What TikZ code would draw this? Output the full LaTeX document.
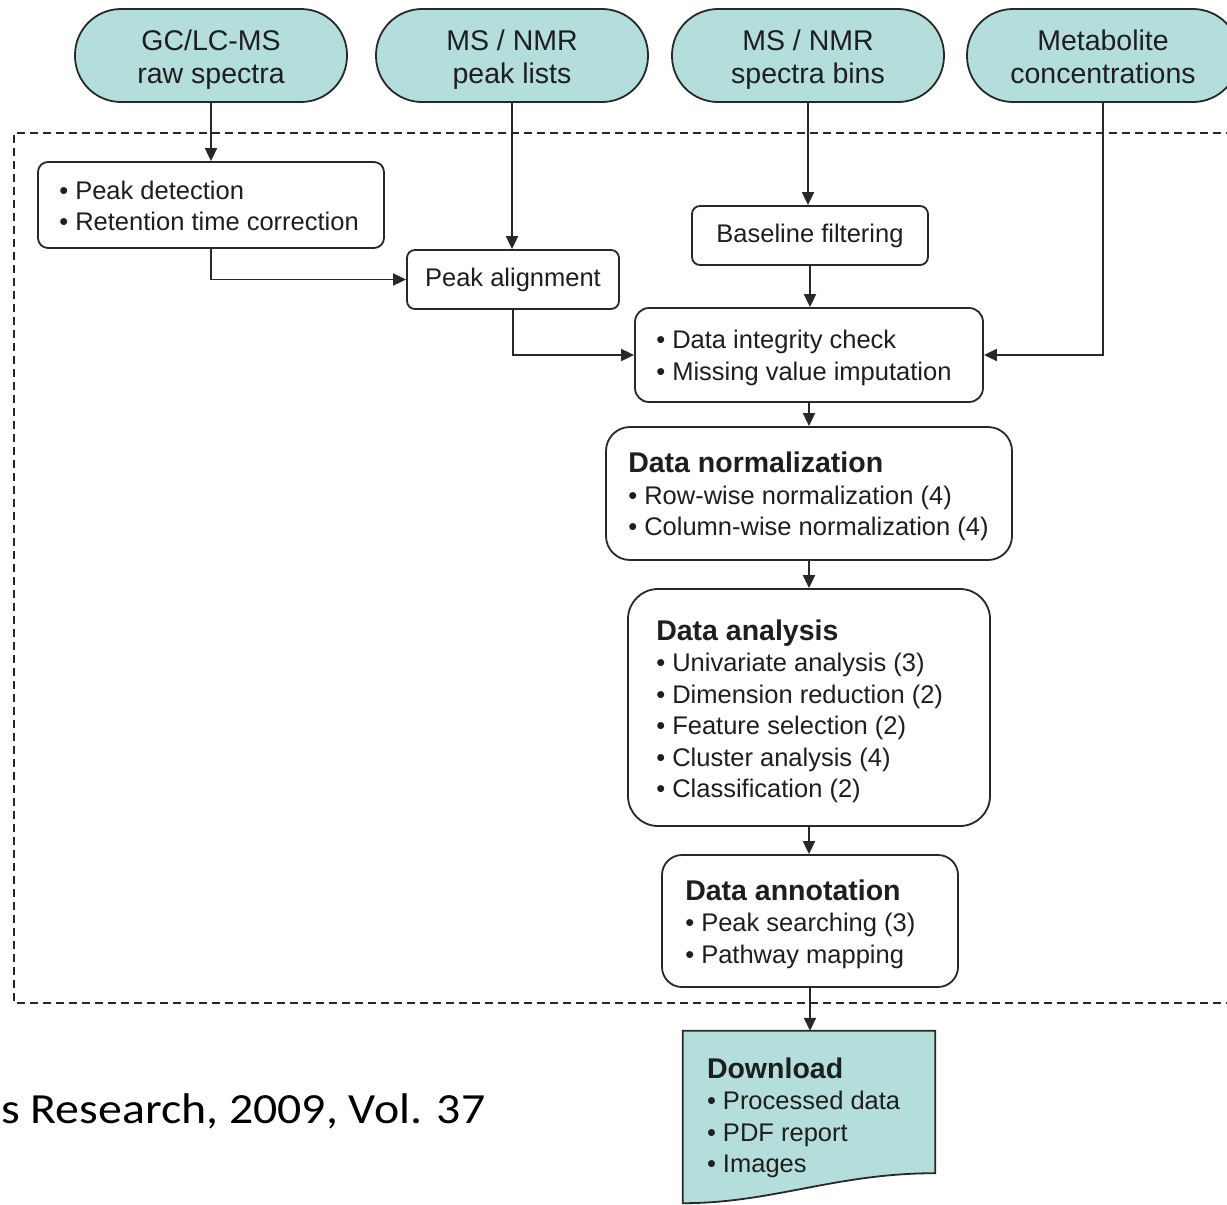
\documentclass[tikz,border=0pt]{standalone}
\usepackage{fontspec}
\setmainfont{Liberation Sans}
\newfontfamily\citefont{Carlito}
\usetikzlibrary{arrows.meta}

\definecolor{pillfill}{RGB}{180,222,220}
\definecolor{linec}{RGB}{40,40,40}
\definecolor{textc}{RGB}{30,30,30}

\tikzset{
  pill/.style={draw=linec, fill=pillfill, line width=1.8pt, rounded corners=46pt,
    minimum width=272pt, minimum height=93pt, inner sep=0pt},
  pilltext/.style={inner sep=0pt, align=center, text=textc,
    font=\fontsize{28.5}{33}\selectfont},
  stepbox/.style={draw=linec, fill=white, line width=1.8pt, inner sep=0pt},
  txt/.style={inner sep=0pt, align=left, text=textc, anchor=west,
    font=\fontsize{25.5}{31.5}\selectfont},
  arr/.style={draw=linec, line width=1.8pt, -{Triangle[length=13pt,width=12pt]}},
  frame/.style={draw=linec, line width=1.5pt, dash pattern=on 8pt off 5pt}
}
\newcommand{\ttl}[1]{{\bfseries\fontsize{28.5}{31.5}\selectfont #1}}

\begin{document}
\begin{tikzpicture}[x=1pt,y=-1pt]
\useasboundingbox (0,0) rectangle (1227,1205);

% processing frame (runs off the right edge)
\draw[frame] (1260,133) -- (14,133) -- (14,1003) -- (1260,1003);

% input data types
\node[pill] (p1) at (211,55.5) {};
\node[pill] (p2) at (512,55.5) {};
\node[pill] (p3) at (808,55.5) {};
\node[pill] (p4) at (1103,55.5) {};
\node[pilltext] (p1T) at ([yshift=-4.4pt]p1.center) {\strut GC/LC-MS\\\strut raw spectra};
\node[pilltext] (p2T) at ([yshift=-4.4pt]p2.center) {\strut MS / NMR\\\strut peak lists};
\node[pilltext] (p3T) at ([yshift=-4.4pt]p3.center) {\strut MS / NMR\\\strut spectra bins};
\node[pilltext] (p4T) at ([yshift=-4.4pt]p4.center) {\strut Metabolite\\\strut concentrations};

% processing steps
\node[stepbox, rounded corners=10pt, minimum width=346pt, minimum height=86pt] (det) at (211,205) {};
\node[txt] (detT) at ([xshift=22pt,yshift=-1pt]det.west) {\textbullet\ Peak detection\\\textbullet\ Retention time correction};

\node[stepbox, rounded corners=8pt, minimum width=212pt, minimum height=59pt] (align) at (513,279.5) {};
\node[txt, anchor=center] (alignT) at (align.center) {Peak alignment};

\node[stepbox, rounded corners=8pt, minimum width=236pt, minimum height=59pt] (base) at (810,235.5) {};
\node[txt, anchor=center] (baseT) at (base.center) {Baseline filtering};

\node[stepbox, rounded corners=14pt, minimum width=348pt, minimum height=94pt] (integ) at (809,355) {};
\node[txt] (integT) at ([xshift=22pt,yshift=-3pt]integ.west) {\textbullet\ Data integrity check\\\textbullet\ Missing value imputation};

\node[stepbox, rounded corners=24pt, minimum width=406pt, minimum height=133pt] (norm) at (809,493.5) {};
\node[txt] (normT) at ([xshift=23pt,yshift=-3pt]norm.west) {\ttl{Data normalization}\\\textbullet\ Row-wise normalization (4)\\\textbullet\ Column-wise normalization (4)};

\node[stepbox, rounded corners=30pt, minimum width=362pt, minimum height=237pt] (anal) at (809,707.5) {};
\node[txt] (analT) at ([xshift=29pt,yshift=-4pt]anal.west) {\ttl{Data analysis}\\\textbullet\ Univariate analysis (3)\\\textbullet\ Dimension reduction (2)\\\textbullet\ Feature selection (2)\\\textbullet\ Cluster analysis (4)\\\textbullet\ Classification (2)};

\node[stepbox, rounded corners=20pt, minimum width=296pt, minimum height=132pt] (annot) at (810,921) {};
\node[txt] (annotT) at ([xshift=24pt,yshift=-3pt]annot.west) {\ttl{Data annotation}\\\textbullet\ Peak searching (3)\\\textbullet\ Pathway mapping};

% output document
\node[minimum width=252pt, minimum height=172pt, inner sep=0pt] (dl) at (809,1117) {};
\draw[draw=linec, fill=pillfill, line width=1.8pt]
  (dl.north west) -- (dl.north east) -- ([yshift=30pt]dl.south east)
  .. controls +(-100pt,0pt) and +(90pt,0pt) .. (dl.south west) -- cycle;
\node[txt] (dlT) at ([xshift=24pt,yshift=-1pt]dl.west) {\ttl{Download}\\\textbullet\ Processed data\\\textbullet\ PDF report\\\textbullet\ Images};

% connectors
\draw[arr] (p1.south) -- (p1.south |- det.north);
\draw[arr] (det.south) |- (align.west);
\draw[arr] (p2.south) -- (p2.south |- align.north);
\draw[arr] (p3.south) -- (p3.south |- base.north);
\draw[arr] (base.south) -- (base.south |- integ.north);
\draw[arr] (align.south) |- (integ.west);
\draw[arr] (p4.south) |- (integ.east);
\draw[arr] (integ.south) -- (integ.south |- norm.north);
\draw[arr] (norm.south) -- (norm.south |- anal.north);
\draw[arr] (anal.south) -- (anal.south |- annot.north);
\draw[arr] (annot.south) -- (annot.south |- dl.north);

% source line
\node[anchor=base west, inner sep=0pt, font=\citefont\fontsize{43}{50}\selectfont] (cite) at (1,1123) {\resizebox{484pt}{\height}{s Research, 2009, Vol. 37}};
\end{tikzpicture}
\end{document}
